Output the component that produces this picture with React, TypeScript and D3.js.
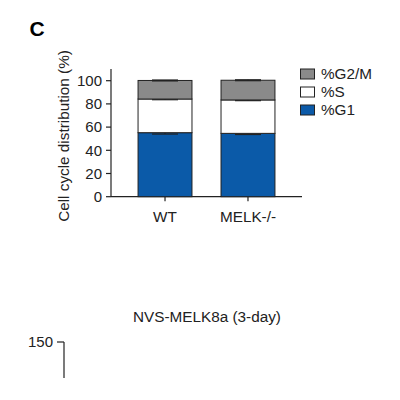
import React from "react";
import * as d3 from "d3";

const categories = ["WT", "MELK-/-"];
const phases = ["%G1", "%S", "%G2/M"];
const g1Values = [55.2, 54.6];
const sValues = [29.0, 28.8];
const g2mValues = [16.0, 17.0];
const g1Err = [1.2, 1.0];
const sErr = [0.6, 0.6];
const g2mErr = [0.4, 0.4];
const yTicks = [0, 20, 40, 60, 80, 100];
const legendOrder = ["%G2/M", "%S", "%G1"];
const colors: Record<string, string> = { "%G1": "#0b5aa8", "%S": "#ffffff", "%G2/M": "#8a8a8a" };

const FONT = "Arial, 'Liberation Sans', Helvetica, sans-serif";

export default function App() {
  const y = d3.scaleLinear().domain([0, 110]).range([196.7, 69.1]);
  const x = d3.scaleBand().domain(categories).range([111, 302]).paddingInner(0.35).paddingOuter(0.326);

  const rows = categories.map((c, i) => ({ cat: c, "%G1": g1Values[i], "%S": sValues[i], "%G2/M": g2mValues[i] }));
  const stack = d3.stack<any>().keys(phases)(rows);
  const errs: Record<string, number[]> = { "%G1": g1Err, "%S": sErr, "%G2/M": g2mErr };

  return (
    <svg width={400} height={400} style={{ position: "absolute", left: 0, top: 0, background: "#fff" }} fontFamily={FONT}>
      <text x={37} y={36} fontSize={21} fontWeight="bold" textAnchor="middle">C</text>
      {/* y axis */}
      <line x1={111} x2={111} y1={y(110)} y2={y(0)} stroke="#222" strokeWidth={1.2} />
      {yTicks.map((t) => (
        <g key={t}>
          <line x1={106} x2={111} y1={y(t)} y2={y(t)} stroke="#222" strokeWidth={1.2} />
          <text x={102} y={y(t)} dy="0.35em" fontSize={15} textAnchor="end" fill="#222">{t}</text>
        </g>
      ))}
      <text transform={`translate(69,136) rotate(-90)`} fontSize={15.3} textAnchor="middle" fill="#222">Cell cycle distribution (%)</text>
      {/* x axis */}
      <line x1={111} x2={302} y1={y(0)} y2={y(0)} stroke="#222" strokeWidth={1.2} />
      {categories.map((c) => (
        <g key={c}>
          <line x1={x(c)! + x.bandwidth() / 2} x2={x(c)! + x.bandwidth() / 2} y1={y(0)} y2={y(0) + 4.5} stroke="#222" strokeWidth={1.2} />
          <text x={x(c)! + x.bandwidth() / 2} y={222} fontSize={15.3} textAnchor="middle" fill="#222">{c}</text>
        </g>
      ))}
      {/* bars */}
      {stack.map((s) => (
        <g key={s.key}>
          {s.map((d, i) => (
            <rect key={i} x={x(categories[i])} width={x.bandwidth()} y={y(d[1])} height={y(d[0]) - y(d[1])}
              fill={colors[s.key]} stroke="#222" strokeWidth={1} />
          ))}
          {s.map((d, i) => {
            const cx = x(categories[i])! + x.bandwidth() / 2;
            const e = errs[s.key][i];
            return (
              <g key={"e" + i} stroke="#222" strokeWidth={1.2}>
                <line x1={cx} x2={cx} y1={y(d[1] - e)} y2={y(d[1] + e)} />
                <line x1={cx - 13} x2={cx + 13} y1={y(d[1] + e)} y2={y(d[1] + e)} />
                <line x1={cx - 13} x2={cx + 13} y1={y(d[1] - e)} y2={y(d[1] - e)} />
              </g>
            );
          })}
        </g>
      ))}
      {/* legend */}
      {legendOrder.map((k, i) => (
        <g key={k}>
          <rect x={300.5} y={69 + i * 18} width={14} height={10} fill={colors[k]} stroke="#222" strokeWidth={1} />
          <text x={321} y={74 + i * 18} dy="0.35em" fontSize={15.3} fill="#222">{k}</text>
        </g>
      ))}
      {/* bottom panel fragment */}
      <text x={207} y={322} fontSize={15.3} textAnchor="middle" fill="#222">NVS-MELK8a (3-day)</text>
      <text x={53} y={347} fontSize={15} textAnchor="end" fill="#222">150</text>
      <line x1={57} x2={64} y1={342} y2={342} stroke="#222" strokeWidth={1.2} />
      <line x1={64} x2={64} y1={342} y2={378} stroke="#222" strokeWidth={1.2} />
    </svg>
  );
}
